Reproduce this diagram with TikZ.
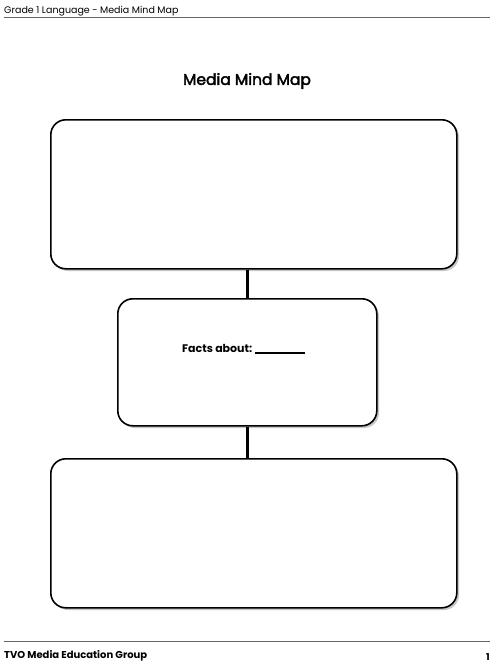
\documentclass[tikz,border=0pt]{standalone}
\usepackage{fontspec}
\setmainfont{Poppins}
\newfontfamily\medfont{Poppins}[FakeBold=2.6]
\begin{document}
\begin{tikzpicture}[x=1pt,y=-1pt,
  mapbox/.style={draw=black,line width=1.6pt,rounded corners=15pt,fill=white},
  shadowbox/.style={fill=black!22,rounded corners=15pt},
  link/.style={line width=3pt,black},
  rule/.style={draw=black!60,line width=0.8pt}]
\useasboundingbox (0,0) rectangle (500,665);
\fill[white] (0,0) rectangle (500,665);
% header
\node[anchor=base west,inner sep=0pt,font=\fontsize{9.5}{11}\selectfont] (hdr) at (4,13) {Grade 1 Language - Media Mind Map};
\coordinate (hl) at (4,17.5); \coordinate (hr) at (490,17.5);
\draw[rule] (hl) -- (hr);
% title
\node[font=\fontsize{15.5}{18}\medfont] (title) at (247,81) {Media Mind Map};
% boxes
\fill[shadowbox] (53,122) rectangle (459,271);
\node[mapbox,minimum width=406pt,minimum height=149pt,anchor=north west] (top) at (50,119) {};
\fill[shadowbox] (120,301) rectangle (379,428);
\node[mapbox,minimum width=259pt,minimum height=127pt,anchor=north west] (mid) at (117,298) {};
\node[anchor=base west,inner sep=0pt,font=\fontsize{11}{13}\selectfont\bfseries] (facts) at (182,352) {Facts about: \rule[-1.5pt]{50pt}{1.2pt}};
\fill[shadowbox] (53,461) rectangle (459,610);
\node[mapbox,minimum width=406pt,minimum height=149pt,anchor=north west] (bot) at (50,458) {};
% connectors
\draw[link] (top.south -| mid.north) -- (mid.north);
\draw[link] (mid.south) -- (bot.north -| mid.south);
% footer
\coordinate (fl) at (4,641); \coordinate (fr) at (490,641);
\draw[rule] (fl) -- (fr);
\node[anchor=base west,inner sep=0pt,font=\fontsize{10}{12}\selectfont\bfseries] (ftr) at (4,658) {TVO Media Education Group};
\node[anchor=base east,inner sep=0pt,font=\fontsize{9.5}{11}\selectfont\bfseries] (pg) at (490,660) {1};
\end{tikzpicture}
\end{document}
